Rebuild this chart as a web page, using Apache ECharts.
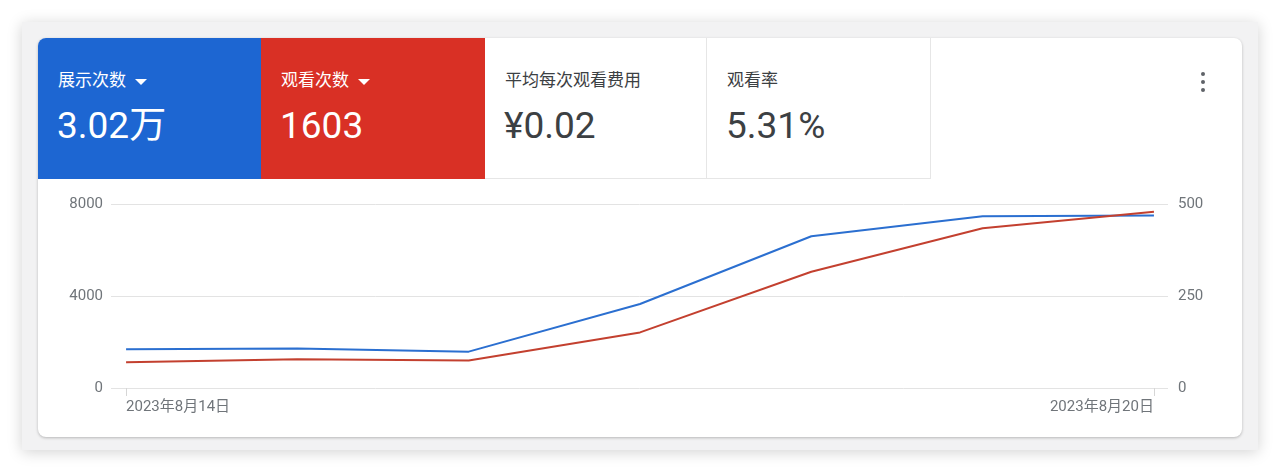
<!DOCTYPE html>
<html>
<head>
<meta charset="utf-8">
<script src="https://cdn.jsdelivr.net/npm/echarts@6/dist/echarts.min.js"></script>
<style>
  html, body { margin: 0; padding: 0; background: #fff; }
  body { width: 1280px; height: 471px; position: relative; overflow: hidden;
         font-family: Roboto, "Noto Sans CJK SC", sans-serif; }
  .frame { position: absolute; left: 22px; top: 22px; width: 1236px; height: 428px;
           background: #f2f2f3; box-shadow: 0 2px 14px rgba(0,0,0,0.18); }
  .card { position: absolute; left: 38px; top: 38px; width: 1204px; height: 399px;
          background: #fff; border-radius: 8px; overflow: hidden;
          box-shadow: 0 1px 3px rgba(0,0,0,0.25); }
  .tile { position: absolute; top: 0; height: 141px; box-sizing: border-box; }
  .tile .lbl { position: absolute; left: 20px; top: 30px; font-size: 17px; line-height: 24px; }
  .tile .val { position: absolute; left: 19px; top: 66px; font-size: 37px; line-height: 44px; }
  .blue { left: 0; width: 223px; background: #1d66d2; color: #fff; }
  .red { left: 223px; width: 224px; background: #d93025; color: #fff; }
  .white { background: #fff; color: #3c4043; border-right: 1px solid #e6e6e6; border-bottom: 1px solid #e6e6e6; }
  .w1 { left: 447px; width: 222px; }
  .w2 { left: 669px; width: 224px; }
  .caret { display: inline-block; width: 0; height: 0; margin-left: 9px; vertical-align: middle;
           border-left: 6px solid transparent; border-right: 6px solid transparent; border-top: 6px solid #fff; }
  .kebab { position: absolute; left: 1163px; top: 34px; }
  .kebab i { display: block; width: 4px; height: 4px; border-radius: 50%; background: #5f6368; margin-bottom: 4px; }
  #chart { position: absolute; left: 0; top: 141px; width: 1204px; height: 258px; }
</style>
</head>
<body>
<div class="frame"></div>
<div class="card">
  <div class="tile blue"><div class="lbl">展示次数<span class="caret"></span></div><div class="val">3.02万</div></div>
  <div class="tile red"><div class="lbl">观看次数<span class="caret"></span></div><div class="val">1603</div></div>
  <div class="tile white w1"><div class="lbl">平均每次观看费用</div><div class="val">¥0.02</div></div>
  <div class="tile white w2"><div class="lbl">观看率</div><div class="val">5.31%</div></div>
  <div class="kebab"><i></i><i></i><i></i></div>
  <div id="chart"></div>
</div>
<script>
var dates = ['2023年8月14日', '2023年8月15日', '2023年8月16日', '2023年8月17日',
             '2023年8月18日', '2023年8月19日', '2023年8月20日'];
var impressions = [1680, 1720, 1580, 3650, 6600, 7470, 7500];
var views = [70, 78, 75, 151, 316, 434, 479];
var leftTicks = [0, 4000, 8000];
var rightTicks = [0, 250, 500];

var axisFont = { color: '#70757a', fontSize: 15, fontFamily: 'Roboto, "Noto Sans CJK SC", sans-serif' };
function plain(v) { return String(v); }

var chart = echarts.init(document.getElementById('chart'));
chart.setOption({
  animation: false,
  grid: { left: 73, right: 74, top: 25, height: 184 },
  xAxis: {
    type: 'value',
    min: -0.088,
    max: dates.length - 1 + 0.082,
    splitLine: { show: false },
    axisLine: { show: false },
    axisTick: { show: true, customValues: [0, dates.length - 1], length: 8,
                lineStyle: { color: '#d6d6d6' } },
    axisLabel: Object.assign({
      customValues: [0, dates.length - 1],
      margin: 12,
      alignMinLabel: 'left',
      alignMaxLabel: 'right',
      formatter: function (v) { return dates[Math.round(v)]; }
    }, axisFont)
  },
  yAxis: [
    {
      type: 'value', min: leftTicks[0], max: leftTicks[2], interval: leftTicks[1] - leftTicks[0],
      axisLine: { show: false }, axisTick: { show: false },
      splitLine: { lineStyle: { color: '#e3e3e3' } },
      axisLabel: Object.assign({ margin: 8, formatter: plain }, axisFont)
    },
    {
      type: 'value', min: rightTicks[0], max: rightTicks[2], interval: rightTicks[1] - rightTicks[0],
      axisLine: { show: false }, axisTick: { show: false },
      splitLine: { show: false },
      axisLabel: Object.assign({ margin: 10, formatter: plain }, axisFont)
    }
  ],
  series: [
    {
      name: '展示次数', type: 'line', yAxisIndex: 0, showSymbol: false,
      lineStyle: { color: '#2b6fd0', width: 2 }, itemStyle: { color: '#2b6fd0' },
      data: impressions.map(function (v, i) { return [i, v]; })
    },
    {
      name: '观看次数', type: 'line', yAxisIndex: 1, showSymbol: false,
      lineStyle: { color: '#c3402f', width: 2 }, itemStyle: { color: '#c3402f' },
      data: views.map(function (v, i) { return [i, v]; })
    }
  ]
});
</script>
</body>
</html>
